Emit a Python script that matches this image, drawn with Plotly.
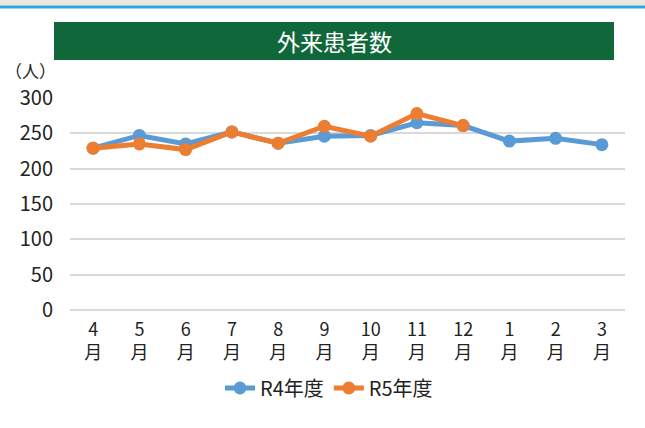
import plotly.graph_objects as go

months = ["4", "5", "6", "7", "8", "9", "10", "11", "12", "1", "2", "3"]
r4_values = [229, 247, 235, 252, 236, 246, 247, 265, 261, 239, 243, 234]
r5_values = [229, 235, 227, 252, 236, 260, 246, 278, 261]
y_ticks = [0, 50, 100, 150, 200, 250, 300]

labels = [f"{m}<br>月" for m in months]
FONT = "Noto Sans CJK JP"


def py(p):
    """page pixel (from top) -> paper y (plot area 98..310)"""
    return (310 - p) / 212


def px(p):
    """page pixel (from left) -> paper x (plot area 70..625)"""
    return (p - 70) / 555


fig = go.Figure()
fig.add_trace(go.Scatter(
    x=labels, y=r4_values, name="R4年度", mode="lines+markers",
    line=dict(color="#5B9BD5", width=5), marker=dict(size=13, color="#5B9BD5"),
))
fig.add_trace(go.Scatter(
    x=labels[:len(r5_values)], y=r5_values, name="R5年度", mode="lines+markers",
    line=dict(color="#ED7D31", width=5), marker=dict(size=13, color="#ED7D31"),
))

fig.update_layout(
    width=645, height=428,
    margin=dict(l=70, r=20, t=98, b=118, autoexpand=False),
    paper_bgcolor="white", plot_bgcolor="white",
    font=dict(family=FONT, color="#222222", size=18),
    showlegend=True,
    legend=dict(orientation="h", x=px(329), xanchor="center", y=py(388), yanchor="middle",
                font=dict(size=20, color="#222222")),
    xaxis=dict(type="category", categoryorder="array", categoryarray=labels,
               range=[-0.5, len(labels) - 0.5],
               showgrid=False, showline=False, zeroline=False, ticks="",
               tickfont=dict(size=18), ticklabelstandoff=7, automargin=False),
    yaxis=dict(range=[0, 300], tickvals=y_ticks, showgrid=True, gridcolor="#D9D9D9",
               gridwidth=2, zeroline=True, zerolinecolor="#D9D9D9", zerolinewidth=2,
               showline=False, ticks="",
               tickfont=dict(size=20), ticklabelstandoff=16, automargin=False),
    shapes=[
        dict(type="rect", xref="paper", yref="paper", x0=-0.2, x1=1.1,
             y0=py(5.5), y1=py(-2), fillcolor="#ECE8DF", line_width=0, layer="above"),
        dict(type="line", xref="paper", yref="paper", x0=-0.2, x1=1.1,
             y0=py(7), y1=py(7), line=dict(color="#29A8E0", width=3), layer="above"),
        dict(type="rect", xref="paper", yref="paper", x0=px(54), x1=px(614),
             y0=py(60), y1=py(22), fillcolor="#10683A", line_width=0),
    ],
    annotations=[
        dict(text="外来患者数", xref="paper", yref="paper", x=px(334), y=py(41),
             showarrow=False, font=dict(size=23, color="white", family=FONT),
             xanchor="center", yanchor="middle"),
        dict(text="（人）", xref="paper", yref="paper", x=px(30), y=py(70),
             showarrow=False, font=dict(size=17, color="#222222", family=FONT),
             xanchor="center", yanchor="middle"),
    ],
)

fig.write_html("out.html", config={"displayModeBar": False},
               post_script="document.body.style.margin='0';")
